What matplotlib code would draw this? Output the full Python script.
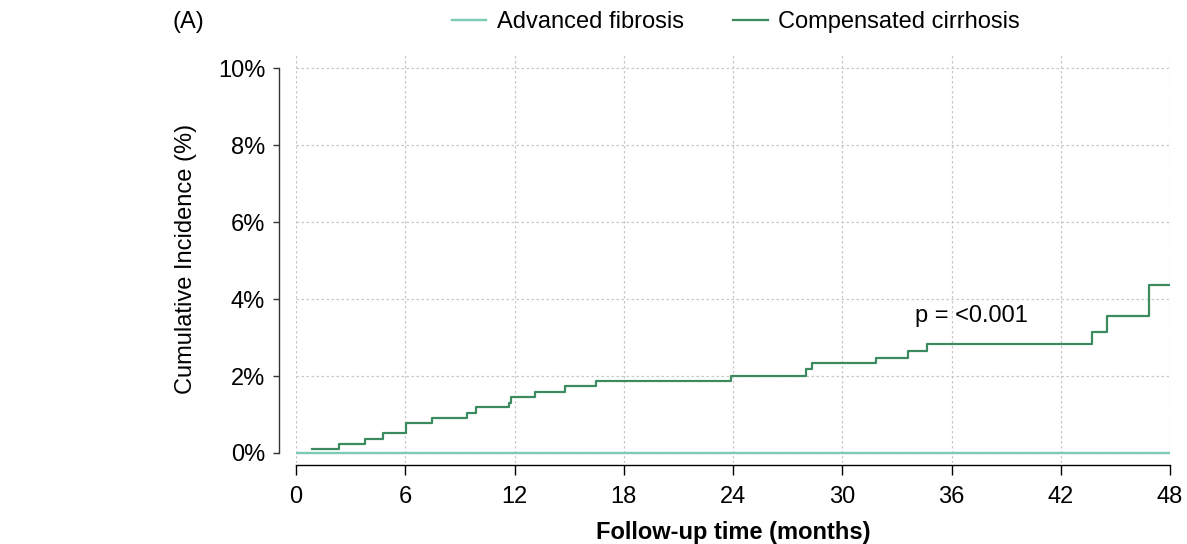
import matplotlib
matplotlib.use("Agg")
import matplotlib.pyplot as plt

plt.rcParams["font.family"] = ["Liberation Sans", "DejaVu Sans"]

# ── data ──────────────────────────────────────────────────────────────────────
af_time = [0, 48]
af_inc = [0.0, 0.0]

cc_time = [0.9, 2.38, 3.80, 4.76, 6.02, 7.46, 9.37, 9.86, 11.71, 11.82, 13.12,
           14.76, 16.45, 23.9, 28.0, 28.34, 31.84, 33.6, 34.68, 43.69, 44.53,
           46.85, 48]
cc_inc = [0.11, 0.24, 0.37, 0.52, 0.79, 0.92, 1.05, 1.19, 1.31, 1.45, 1.59,
          1.73, 1.86, 2.0, 2.17, 2.34, 2.48, 2.64, 2.82, 3.15, 3.57, 4.36, 4.36]

x_ticks = [0, 6, 12, 18, 24, 30, 36, 42, 48]
y_ticks = [0, 2, 4, 6, 8, 10]

LIGHT = "#7DCBB6"
DARK = "#3C8A60"
FS = 17

fig = plt.figure(figsize=(11.87, 5.44), dpi=100)
ax = fig.add_axes([0.2494, 0.1496, 0.7363, 0.750])

ax.step(af_time, af_inc, where="post", color=LIGHT, lw=1.7, label="Advanced fibrosis")
ax.step(cc_time, cc_inc, where="post", color=DARK, lw=1.6, label="Compensated cirrhosis")

ax.set_xlim(0, 48)
ax.set_ylim(-0.25, 10.35)
ax.set_xticks(x_ticks)
ax.set_yticks(y_ticks)
ax.set_yticklabels([f"{v}%" for v in y_ticks])
ax.grid(True, color="#c8c8c8", linestyle=(0, (2, 2)), lw=0.9)
ax.set_axisbelow(True)

for s in ["top", "right"]:
    ax.spines[s].set_visible(False)
ax.spines["left"].set_position(("outward", 12.2))
ax.spines["left"].set_bounds(0, 10)
ax.spines["bottom"].set_position(("outward", 2))
ax.spines["bottom"].set_bounds(0, 48)
ax.spines["left"].set_color("#333333")
ax.spines["left"].set_linewidth(1.0)
ax.spines["bottom"].set_linewidth(1.0)
ax.tick_params(axis="y", length=4, width=1, labelsize=FS, pad=6, color="#333333")
ax.tick_params(axis="x", length=7, width=1, labelsize=FS, pad=8)

ax.set_ylabel("Cumulative Incidence (%)", fontsize=FS, labelpad=15)
ax.set_xlabel("Follow-up time (months)", fontsize=FS, fontweight="bold", labelpad=9)

ax.text(34.0, 3.56, "p = <0.001", fontsize=FS, ha="left", va="center")

fig.text(172 / 1187, 1 - 22 / 544, "(A)", fontsize=FS, ha="left", va="center")
fig.legend(loc="center", bbox_to_anchor=(736 / 1187, 1 - 22 / 544), ncol=2,
           frameon=False, fontsize=FS, handlelength=1.45, columnspacing=2.1,
           handletextpad=0.45)

fig.savefig("out.png", dpi=100)
